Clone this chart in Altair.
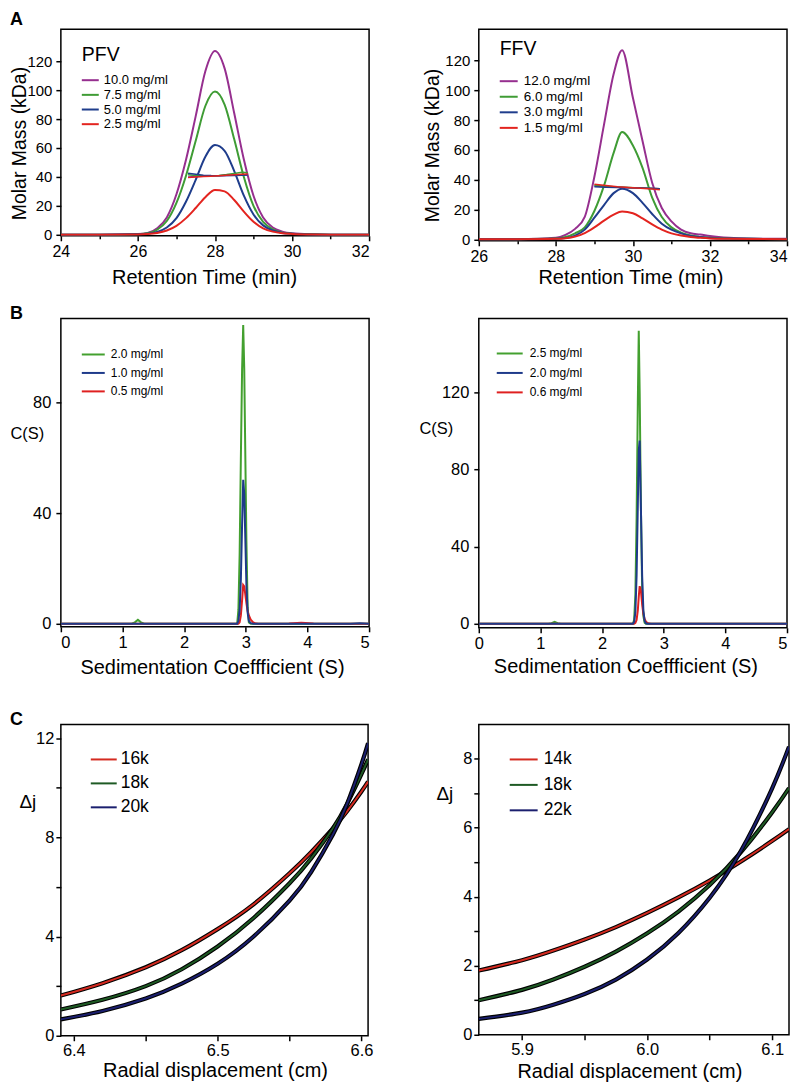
import altair as alt
import pandas as pd

FONT = "Liberation Sans"

# ================= Panel A : SEC-MALS =================
pfv_time = [24, 25, 26, 26.25, 26.5, 26.75, 27, 27.25, 27.5, 27.75, 28, 28.25, 28.5,
            28.75, 29, 29.25, 29.5, 29.75, 30, 30.5, 31, 32]
pfv_10_0 = [0, 0, 0.5, 1.2, 4.5, 12, 28, 52, 82, 113, 127, 115, 84, 52, 27, 12, 5, 2.2, 1, 0.3, 0.1, 0]
pfv_7_5 = [0, 0, 0.4, 1, 3.5, 9.5, 22, 41, 65, 89, 99, 90, 66, 40, 20, 9, 3.8, 1.5, 0.8, 0.3, 0.1, 0]
pfv_5_0 = [0, 0, 0.3, 0.7, 2, 5, 11.5, 23, 38, 54, 62, 58, 44, 27, 14, 6.5, 3, 1.3, 0.7, 0.2, 0.1, 0]
pfv_2_5 = [0, 0, 0.2, 0.5, 1.3, 3, 6.2, 11.5, 18.5, 26, 31, 30, 24, 16, 9, 4.5, 2.2, 1.1, 0.6, 0.2, 0.1, 0]
pfv_mm_time = [27.3, 27.5, 27.7, 27.9, 28.1, 28.3, 28.5, 28.7, 28.85]
pfv_mm_10_0 = [40.0, 40.3, 40.4, 40.6, 40.8, 41.0, 41.2, 41.4, 41.5]
pfv_mm_7_5 = [41.5, 41.0, 40.8, 40.8, 41.0, 41.6, 42.4, 43.2, 42.8]
pfv_mm_5_0 = [42.5, 41.8, 41.2, 40.9, 40.8, 40.9, 41.0, 41.2, 41.3]
pfv_mm_2_5 = [39.5, 40.0, 40.2, 40.5, 40.8, 41.1, 41.5, 41.8, 42.0]
pfv_labels = ["10.0 mg/ml", "7.5 mg/ml", "5.0 mg/ml", "2.5 mg/ml"]

ffv_time = [26, 27, 28, 28.25, 28.5, 28.75, 29, 29.25, 29.5, 29.72, 30, 30.25, 30.5,
            30.75, 31, 31.25, 31.5, 31.75, 32, 32.5, 33, 34]
ffv_12_0 = [0, 0.1, 1.0, 3, 7, 15, 42, 77, 111, 127, 95, 66, 38, 21, 12, 6.5, 4, 3.2, 2.2, 1, 0.5, 0.3]
ffv_6_0 = [0, 0.1, 0.5, 1.5, 4, 8, 19, 36, 58, 72, 63, 48, 28, 15, 8, 4.5, 2.5, 1.6, 1, 0.5, 0.3, 0.1]
ffv_3_0 = [0, 0.05, 0.3, 0.8, 2.5, 6.5, 14.5, 23, 31, 34, 31, 24.5, 17, 10.5, 6.5, 4, 2.3, 1.5, 0.9, 0.5, 0.3, 0.1]
ffv_1_5 = [0, 0.05, 0.3, 0.7, 1.8, 4.2, 8, 12.5, 16.5, 18.6, 17.5, 14, 10, 6.5, 4, 2.5, 1.5, 1, 0.6, 0.3, 0.2, 0.1]
ffv_mm_time = [29.0, 29.3, 29.6, 29.9, 30.2, 30.5, 30.7]
ffv_mm_12_0 = [35.8, 35.3, 34.9, 34.6, 34.4, 34.2, 34.0]
ffv_mm_6_0 = [36.3, 35.6, 35.1, 34.7, 34.4, 34.1, 34.0]
ffv_mm_3_0 = [35.3, 35.0, 34.8, 34.6, 34.4, 34.1, 33.9]
ffv_mm_1_5 = [37.0, 36.2, 35.3, 34.7, 34.2, 33.8, 33.2]
ffv_labels = ["12.0 mg/ml", "6.0 mg/ml", "3.0 mg/ml", "1.5 mg/ml"]

sec_colors = ["#962f8f", "#3f9c35", "#1f3d8c", "#e3241f"]

# ================= Panel B : sedimentation velocity =================
b1_s = [0, 0.5, 1.0, 1.15, 1.2, 1.25, 1.3, 1.35, 1.5, 2.0, 2.5, 2.8, 2.86, 2.88, 2.9, 2.92,
        2.94, 2.958, 2.975, 2.99, 3.01, 3.03, 3.05, 3.08, 3.12, 3.15, 3.2, 3.5, 3.7, 3.9,
        4.1, 4.3, 4.7, 4.85, 5.0]
b1_2_0 = [0, 0, 0, 0, 0.5, 1.4, 0.5, 0, 0, 0, 0, 0, 0, 5, 25, 60, 92, 108, 92, 65, 30, 6,
          0.5, 0, 0, 0, 0, 0, 0, 0, 0, 0, 0, 0, 0]
b1_1_0 = [0, 0, 0, 0, 0, 0, 0, 0, 0, 0, 0, 0, 0, 1, 5, 16, 36, 52, 47, 33, 14, 4, 1, 0.2,
          0, 0, 0, 0, 0, 0, 0, 0, 0, 0.2, 0]
b1_0_5 = [0, 0, 0, 0, 0, 0, 0, 0, 0, 0, 0, 0, 0, 0, 0.5, 3, 8.5, 14, 13.5, 11, 7.5, 4.5,
          3, 1.5, 0.5, 0.2, 0, 0, 0.1, 0.35, 0.1, 0, 0, 0, 0]
b1_labels = ["2.0 mg/ml", "1.0 mg/ml", "0.5 mg/ml"]

b2_s = [0, 0.5, 1.0, 1.13, 1.18, 1.23, 1.28, 1.33, 1.5, 2.0, 2.4, 2.5, 2.52, 2.54, 2.56,
        2.58, 2.595, 2.61, 2.63, 2.65, 2.67, 2.69, 2.71, 2.73, 2.76, 2.8, 3.0, 3.5, 4.0, 4.5, 5.0]
b2_2_5 = [0, 0, 0, 0, 0.3, 1.0, 0.3, 0, 0, 0, 0, 0, 2, 15, 55, 115, 152, 120, 60, 18, 4,
          0.5, 0, 0, 0, 0, 0, 0, 0, 0, 0]
b2_2_0 = [0, 0, 0, 0, 0, 0, 0, 0, 0, 0, 0, 0, 1, 6, 25, 62, 90, 95, 60, 25, 7, 1.5, 0.3,
          0, 0, 0, 0, 0, 0, 0, 0]
b2_0_6 = [0, 0, 0, 0, 0, 0, 0, 0, 0, 0, 0, 0, 0, 0.5, 2, 7, 14, 19.5, 17, 10, 5, 2.5, 1.2,
          0.5, 0.1, 0, 0, 0, 0, 0, 0]
b2_labels = ["2.5 mg/ml", "2.0 mg/ml", "0.6 mg/ml"]

sv_colors = ["#43a02f", "#1e3a8a", "#df2020"]

# ================= Panel C : sedimentation equilibrium =================
c1_r = [6.391, 6.42, 6.45, 6.475, 6.5, 6.525, 6.55, 6.565, 6.58, 6.59, 6.6, 6.6046]
c1_16k = [1.62, 2.12, 2.76, 3.45, 4.3, 5.3, 6.55, 7.4, 8.35, 9.05, 9.85, 10.25]
c1_18k = [1.06, 1.45, 2.0, 2.68, 3.6, 4.75, 6.15, 7.15, 8.35, 9.35, 10.55, 11.15]
c1_20k = [0.66, 1.0, 1.5, 2.1, 2.9, 4.0, 5.45, 6.6, 8.1, 9.35, 10.95, 11.8]
c1_labels = ["16k", "18k", "20k"]

c2_r = [5.8654, 5.9, 5.925, 5.95, 5.975, 6.0, 6.025, 6.05, 6.075, 6.1, 6.1134]
c2_14k = [1.86, 2.16, 2.44, 2.76, 3.12, 3.53, 3.98, 4.47, 5.02, 5.62, 5.96]
c2_18k = [1.0, 1.3, 1.6, 1.97, 2.41, 2.94, 3.57, 4.34, 5.29, 6.45, 7.15]
c2_22k = [0.46, 0.64, 0.87, 1.18, 1.6, 2.18, 2.95, 3.97, 5.33, 7.15, 8.35]
c2_labels = ["14k", "18k", "22k"]

se_colors = ["#d42a20", "#1e5a24", "#1b1f6e"]


# ================= helpers =================
def line(xs, ys, color, X, Y, width=2.0, interp="monotone"):
    df = pd.DataFrame({"x": xs, "y": ys})
    return alt.Chart(df).mark_line(color=color, strokeWidth=width, interpolate=interp,
                                   clip=True).encode(x=X, y=Y)


def legend(labels, colors, x0, x1, tx, y0, dy, fs, font=FONT, sw=2.0):
    out = []
    for i, (lab, col) in enumerate(zip(labels, colors)):
        d = pd.DataFrame({"label": [lab]})
        yy = y0 + i * dy
        out.append(alt.Chart(d).mark_rule(color=col, strokeWidth=sw).encode(
            x=alt.value(x0), x2=alt.value(x1), y=alt.value(yy)))
        out.append(alt.Chart(d).mark_text(align="left", baseline="middle", fontSize=fs,
                                          font=font, color="black").encode(
            x=alt.value(tx), y=alt.value(yy), text="label:N"))
    return out


def label_text(txt, x, y, fs, weight="normal", baseline="alphabetic"):
    d = pd.DataFrame({"t": [txt]})
    return alt.Chart(d).mark_text(align="left", baseline=baseline, fontSize=fs,
                                  fontWeight=weight, font=FONT, color="black").encode(
        x=alt.value(x), y=alt.value(y), text="t:N")


EVEN = "datum.value % 2 === 0"
minor_tick = {"condition": {"test": EVEN, "value": 5}, "value": 3}


def sec_x(lo, hi, title_x, title_y):
    return alt.X("x:Q", scale=alt.Scale(domain=[lo, hi], nice=False, zero=False),
                 axis=alt.Axis(values=list(range(lo, hi + 1)),
                               labelExpr=EVEN + " ? datum.label : ''",
                               tickSize=minor_tick, labelFontSize=16, labelPadding=3,
                               labelAlign={"condition": {"test": "datum.value === %d" % hi,
                                                         "value": "right"}, "value": "center"},
                               title="Retention Time (min)", titleFontSize=20,
                               titleX=title_x, titleY=title_y, titleBaseline="alphabetic"))


def sec_y(lo, hi, title_x, title_y):
    return alt.Y("y:Q", scale=alt.Scale(domain=[lo, hi], nice=False, zero=False),
                 axis=alt.Axis(values=[0, 20, 40, 60, 80, 100, 120], labelFontSize=15,
                               tickSize=5, labelPadding=4, title="Molar Mass (kDa)",
                               titleFontSize=19.5, titleAngle=270, titleX=title_x,
                               titleY=title_y, titleAlign="center", titleBaseline="middle"))


# ---------- A left (PFV) ----------
XA1 = sec_x(24, 32, 143.5, 48)
YA1 = sec_y(-0.7, 142, -41.5, 114)
a1_layers = []
for ys, col in zip([pfv_10_0, pfv_7_5, pfv_5_0, pfv_2_5], sec_colors):
    a1_layers.append(line(pfv_time, ys, col, XA1, YA1))
for ys, col in zip([pfv_mm_10_0, pfv_mm_7_5, pfv_mm_5_0, pfv_mm_2_5], sec_colors):
    a1_layers.append(line(pfv_mm_time, ys, col, XA1, YA1, width=1.5, interp="linear"))
a1_layers += legend(pfv_labels, sec_colors, 21, 38, 43, 51, 14.7, 13)
a1_layers.append(label_text("PFV", 21, 31.5, 19.5))
a1_layers.append(label_text("A", -51, -4.8, 18, weight="bold"))
panel_a1 = alt.layer(*a1_layers).properties(width=309, height=207)

# ---------- A right (FFV) ----------
XA2 = sec_x(26, 34, 152, 43)
YA2 = sec_y(-1, 141, -46.5, 116)
a2_layers = []
for ys, col in zip([ffv_12_0, ffv_6_0, ffv_3_0, ffv_1_5], sec_colors):
    a2_layers.append(line(ffv_time, ys, col, XA2, YA2))
for ys, col in zip([ffv_mm_12_0, ffv_mm_6_0, ffv_mm_3_0, ffv_mm_1_5], sec_colors):
    a2_layers.append(line(ffv_mm_time, ys, col, XA2, YA2, width=1.5, interp="linear"))
a2_layers += legend(ffv_labels, sec_colors, 21, 39, 45, 52, 15.6, 13.5)
a2_layers.append(label_text("FFV", 21, 26, 19.5))
panel_a2 = alt.layer(*a2_layers).properties(width=309, height=212)


# ---------- B ----------
def sv_x(title_x, title_y, flush_last):
    ax = dict(values=[0, 1, 2, 3, 4, 5], labelFontSize=16.5, labelPadding=3, tickSize=5,
              title="Sedimentation Coeffficient (S)", titleFontSize=20,
              titleX=title_x, titleY=title_y, titleBaseline="alphabetic")
    if flush_last:
        ax["labelAlign"] = {"condition": {"test": "datum.value === 5", "value": "right"},
                            "value": "center"}
    return alt.X("x:Q", scale=alt.Scale(domain=[0, 5], nice=False, zero=False),
                 axis=alt.Axis(**ax))


def sv_y(lo, hi, values, title_x, title_y):
    return alt.Y("y:Q", scale=alt.Scale(domain=[lo, hi], nice=False, zero=False),
                 axis=alt.Axis(values=values, labelFontSize=16.5, labelPadding=5, tickSize=5,
                               title="C(S)", titleFontSize=16.5, titleAngle=0,
                               titleX=title_x, titleY=title_y, titleAlign="left",
                               titleBaseline="middle"))


XB1 = sv_x(151.5, 47, False)
YB1 = sv_y(-1.1, 110.3, [0, 40, 80], -51, 115)
b1_layers = []
for ys, col in zip([b1_2_0, b1_0_5, b1_1_0], [sv_colors[0], sv_colors[2], sv_colors[1]]):
    b1_layers.append(line(b1_s, ys, col, XB1, YB1, width=2.0, interp="linear"))
b1_layers += legend(b1_labels, sv_colors, 21, 44, 50, 36, 18.5, 12)
b1_layers.append(label_text("B", -51, 0, 18, weight="bold"))
panel_b1 = alt.layer(*b1_layers).properties(width=309, height=309)

XB2 = sv_x(147, 45, True)
YB2 = sv_y(-2.1, 158.3, [0, 40, 80, 120], -60, 110)
b2_layers = []
for ys, col in zip([b2_2_5, b2_0_6, b2_2_0], [sv_colors[0], sv_colors[2], sv_colors[1]]):
    b2_layers.append(line(b2_s, ys, col, XB2, YB2, width=2.0, interp="linear"))
b2_layers += legend(b2_labels, sv_colors, 18, 44, 51, 35, 19.5, 12)
panel_b2 = alt.layer(*b2_layers).properties(width=309, height=310)

# ---------- C ----------
TENTH = "abs(datum.value*10 - round(datum.value*10)) < 0.001 ? format(datum.value, '.1f') : ''"


def se_x(lo, hi, values, title_x, title_y):
    return alt.X("x:Q", scale=alt.Scale(domain=[lo, hi], nice=False, zero=False),
                 axis=alt.Axis(values=values, labelExpr=TENTH, labelFontSize=16.5,
                               labelPadding=2, tickSize=5,
                               title="Radial displacement (cm)", titleFontSize=20,
                               titleX=title_x, titleY=title_y, titleBaseline="alphabetic"))


def se_y(hi, values, step, title_x, title_y):
    return alt.Y("y:Q", scale=alt.Scale(domain=[0, hi], nice=False, zero=False),
                 axis=alt.Axis(values=values,
                               labelExpr="datum.value %% %d === 0 ? datum.label : ''" % step,
                               labelFontSize=16.5, labelPadding=2, tickSize=5,
                               title="Δj", titleFontSize=19, titleAngle=0,
                               titleX=title_x, titleY=title_y, titleAlign="left",
                               titleBaseline="middle"))


XC1 = se_x(6.391, 6.6046, [6.4, 6.45, 6.5, 6.55, 6.6], 154.5, 41)
YC1 = se_y(12.55, [0, 2, 4, 6, 8, 10, 12], 4, -42, 77)
c1_layers = []
for ys, col in zip([c1_16k, c1_18k, c1_20k], se_colors):
    c1_layers.append(line(c1_r, ys, "black", XC1, YC1, width=4.2, interp="natural"))
    c1_layers.append(line(c1_r, ys, col, XC1, YC1, width=2.0, interp="natural"))
c1_layers += legend(c1_labels, se_colors, 30, 56, 60, 35, 24, 17.5)
c1_layers.append(label_text("C", -51, 0, 18, weight="bold"))
panel_c1 = alt.layer(*c1_layers).properties(width=308, height=312)

XC2 = se_x(5.8654, 6.1134, [5.9, 5.95, 6.0, 6.05, 6.1], 151, 43)
YC2 = se_y(8.99, [0, 1, 2, 3, 4, 5, 6, 7, 8], 2, -43, 69)
c2_layers = []
for ys, col in zip([c2_14k, c2_18k, c2_22k], se_colors):
    c2_layers.append(line(c2_r, ys, "black", XC2, YC2, width=4.2, interp="natural"))
    c2_layers.append(line(c2_r, ys, col, XC2, YC2, width=2.0, interp="natural"))
c2_layers += legend(c2_labels, se_colors, 31, 59, 65, 35, 25.5, 17.5)
panel_c2 = alt.layer(*c2_layers).properties(width=311, height=311)

# ---------- layout ----------
row_a = alt.hconcat(panel_a1, panel_a2, spacing=110, bounds="flush")
row_b = alt.hconcat(panel_b1, panel_b2, spacing=110, bounds="flush")
row_c = alt.hconcat(panel_c1, panel_c2, spacing=111, bounds="flush")

chart = alt.vconcat(
    alt.vconcat(row_a, row_b, spacing=15),
    row_c, spacing=31
).properties(
    padding=0
).configure_view(
    stroke="black", strokeWidth=1.5
).configure_axis(
    domain=False, grid=False, tickColor="black", tickWidth=1.5, labelColor="black",
    titleColor="black", labelFont=FONT, titleFont=FONT, titleFontWeight="normal"
)

chart.save("out.html", embed_options={"renderer": "svg", "actions": False})
